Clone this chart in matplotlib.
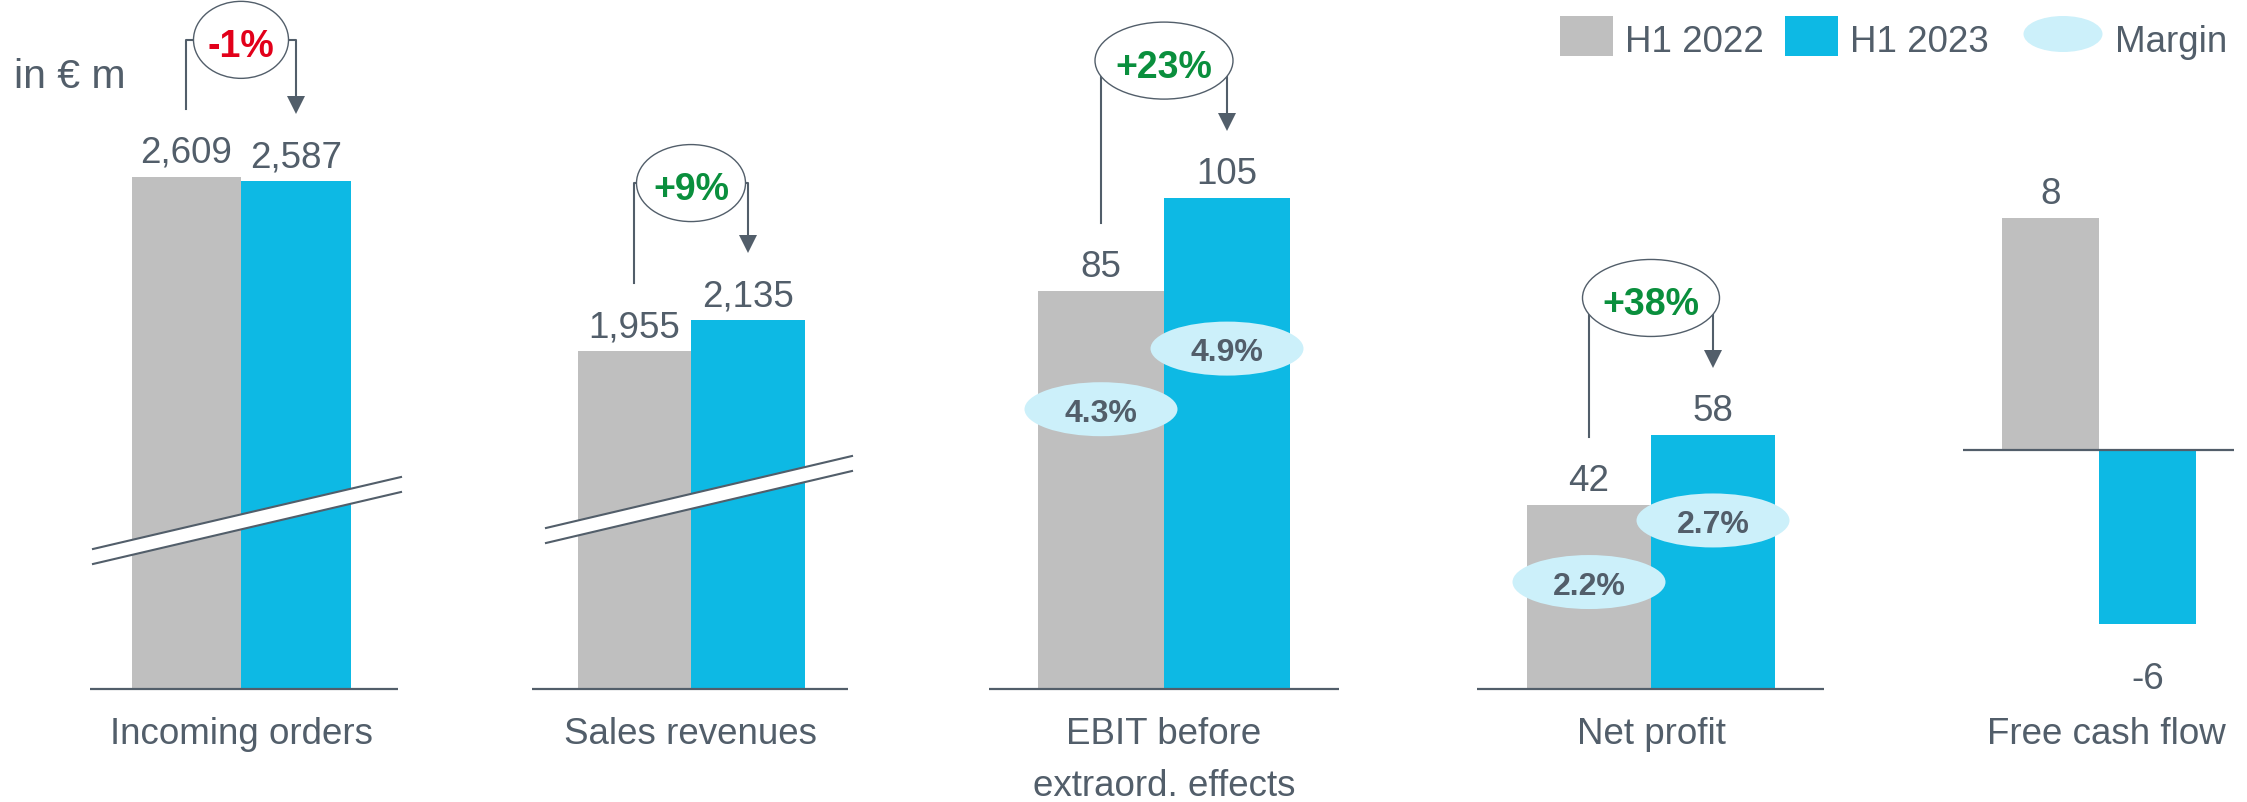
import matplotlib
matplotlib.use('Agg')
import matplotlib.pyplot as plt
from matplotlib.patches import Ellipse, Polygon, Rectangle
from matplotlib.transforms import blended_transform_factory

plt.rcParams['font.family'] = ['Liberation Sans', 'DejaVu Sans']

# data, in EUR m
categories = ['Incoming orders', 'Sales revenues', 'EBIT before\nextraord. effects',
              'Net profit', 'Free cash flow']
h1_2022 = [2609, 1955, 85, 42, 8]
h1_2023 = [2587, 2135, 105, 58, -6]
change_labels = ['-1%', '+9%', '+23%', '+38%', None]
margin_2022 = [None, None, 4.3, 2.2, None]
margin_2023 = [None, None, 4.9, 2.7, None]
series_names = ['H1 2022', 'H1 2023', 'Margin']

GRAY = '#BFBFBF'
BLUE = '#0DB9E4'
LIGHT = '#CCF0FA'
TXT = '#525E6A'
GREEN = '#0A8F3D'
RED = '#E2001A'

W, H = 2247, 802
fig = plt.figure(figsize=(W / 100, H / 100), dpi=100)

# every panel is its own small chart with its own scale (pixels)
span_px = [(90, 398), (532, 848), (989, 1339), (1477, 1824), (1963, 2234)]
mid_px = [241, 691, 1164, 1651, 2099]
bar_px = [109.5, 113.5, 126, 124, 97]
base_px = [689, 689, 689, 689, 450]
ppu = [0.1963, 0.1728, 4.68, 4.38, 29.0]   # pixels per EUR m
label_dx = [0, 0, 0, 0, 0.08]
breaks = {0: (93, 549, 401, 477), 1: (546, 528, 852, 456)}
ell_w = [95, 109, 138, 137, 0]
margin_off = {2: (118, 151), 3: (77, 85.5)}

for i in range(5):
    left, right = span_px[i]
    mid, bw, base, k = mid_px[i], bar_px[i], base_px[i], ppu[i]
    ax = fig.add_axes([left / W, 0, (right - left) / W, 1])
    ax.set_xlim((left - mid) / bw + 0.5, (right - mid) / bw + 0.5)
    ax.set_ylim((base - H) / k, base / k)
    ax.axis('off')

    def X(px):
        return (px - mid) / bw + 0.5

    def Y(py):
        return (base - py) / k

    v0, v1 = h1_2022[i], h1_2023[i]
    ax.bar([0, 1], [v0, v1], width=1, color=[GRAY, BLUE], zorder=2)
    ax.axhline(0, color=TXT, lw=1.6, zorder=3)

    for x, v in ((0, v0), (1, v1)):
        off = 14 if v >= 0 else -65
        ax.annotate(f'{v:,}', (x, v), xytext=(0, off), textcoords='offset pixels',
                    ha='center', va='baseline', fontsize=26.5, color=TXT)

    trans = blended_transform_factory(ax.transData, fig.transFigure)
    for j, line in enumerate(categories[i].split('\n')):
        ax.text(0.5 + label_dx[i], 1 - (744.5 + 52 * j) / H, line, transform=trans,
                ha='center', va='baseline', fontsize=26.5, color=TXT)

    # axis break
    if i in breaks:
        x1, y1, x2, y2 = breaks[i]
        gap = 15
        ax.add_patch(Polygon([(X(x1), Y(y1)), (X(x2), Y(y2)), (X(x2), Y(y2 + gap)),
                              (X(x1), Y(y1 + gap))], fc='white', ec='none', zorder=4,
                             clip_on=False))
        for g in (0, gap):
            ax.plot([X(x1), X(x2)], [Y(y1 + g), Y(y2 + g)], color=TXT, lw=1.5,
                    zorder=5, clip_on=False)

    # change bracket
    if change_labels[i]:
        ey = max(v0, v1) + 137 / k
        y_left = v0 + 68 / k
        y_tip = v1 + 68 / k
        ax.plot([0, 0, 1, 1], [y_left, ey, ey, y_tip + 12 / k], color=TXT, lw=1.5,
                zorder=5, clip_on=False)
        ax.plot(1, y_tip + 8 / k, marker='v', ms=13, mew=0, color=TXT, zorder=5,
                clip_on=False)
        ax.add_patch(Ellipse((0.5, ey), ell_w[i] / bw, 77 / k, fc='white', ec=TXT,
                             lw=1.0, zorder=6, clip_on=False))
        col = RED if change_labels[i].startswith('-') else GREEN
        ax.annotate(change_labels[i], (0.5, ey), xytext=(0, -17),
                    textcoords='offset pixels', ha='center', va='baseline',
                    fontsize=27, fontweight='bold', color=col, zorder=7)

    # margins
    if margin_2022[i] is not None:
        for x, v, m, off in ((0, v0, margin_2022[i], margin_off[i][0]),
                             (1, v1, margin_2023[i], margin_off[i][1])):
            cy = v - off / k
            ax.add_patch(Ellipse((x, cy), 153 / bw, 54 / k, fc=LIGHT, ec='none',
                                 zorder=4, clip_on=False))
            ax.annotate(f'{m:.1f}%', (x, cy), xytext=(0, -12.5),
                        textcoords='offset pixels', ha='center', va='baseline',
                        fontsize=23, fontweight='bold', color=TXT, zorder=5)

# legend and unit, drawn in pixel space
lax = fig.add_axes([0, 0, 1, 1])
lax.set_xlim(0, W)
lax.set_ylim(H, 0)
lax.axis('off')
lax.text(14, 88, 'in € m', fontsize=29.5, color=TXT, va='baseline')
lax.add_patch(Rectangle((1560, 16), 53, 40, fc=GRAY, ec='none'))
lax.text(1625, 51.5, series_names[0], fontsize=26.5, color=TXT, va='baseline')
lax.add_patch(Rectangle((1785, 16), 53, 40, fc=BLUE, ec='none'))
lax.text(1850, 51.5, series_names[1], fontsize=26.5, color=TXT, va='baseline')
lax.add_patch(Ellipse((2063, 34), 79, 36, fc=LIGHT, ec='none'))
lax.text(2115, 51.5, series_names[2], fontsize=26.5, color=TXT, va='baseline')

fig.savefig('out.png', dpi=100)
